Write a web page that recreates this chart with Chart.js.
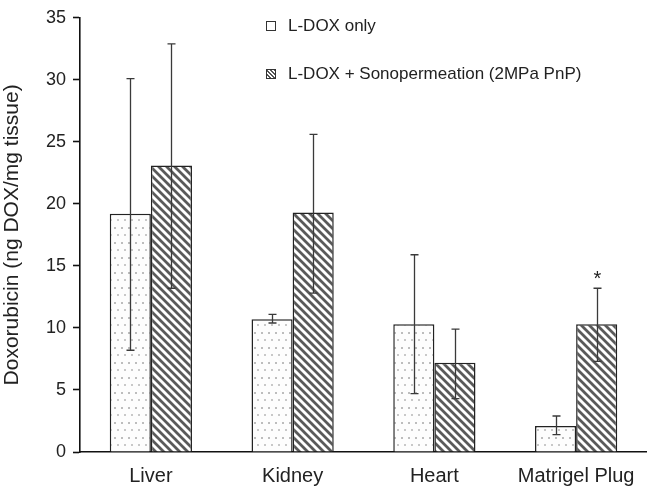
<!DOCTYPE html>
<html>
<head>
<meta charset="utf-8">
<script src="https://cdn.jsdelivr.net/npm/chart.js@4.4.1/dist/chart.umd.min.js"></script>
<style>
  html, body { margin: 0; padding: 0; background: #fff; }
  #wrap { position: relative; width: 647px; height: 487px; }
  #legend { position: absolute; left: 266px; top: 16px; font-family: 'Liberation Sans', Arial, sans-serif; font-size: 17px; color: #222; }
  .item { display: flex; align-items: center; height: 20px; margin-bottom: 28px; }
  .box { width: 8px; height: 8px; border: 1.5px solid #333; margin-right: 12px; background: #fff; }
  .box.hatch { background: repeating-linear-gradient(45deg, #fff 0 1.5px, #555 1.5px 3px); }
</style>
</head>
<body>
<div id="wrap">
  <canvas id="graphContainer" width="647" height="487"></canvas>
  <div id="legend"></div>
</div>
<script>

var organs = ['Liver', 'Kidney', 'Heart', 'Matrigel Plug'];

var seriesNames = ['L-DOX only', 'L-DOX + Sonopermeation (2MPa PnP)'];

// mean values (ng DOX / mg tissue)
var doxOnly = [19.2, 10.7, 10.3, 2.1];
var doxSono = [23.1, 19.3, 7.2, 10.3];

// error bar ends
var doxOnlyLow  = [8.2, 10.4, 4.7, 1.4];
var doxOnlyHigh = [30.1, 11.1, 15.9, 2.9];
var doxSonoLow  = [13.2, 12.8, 4.3, 7.3];
var doxSonoHigh = [32.9, 25.6, 9.9, 13.2];

var sigMarks = ['', '', '', '*'];

var yTicks = [0, 5, 10, 15, 20, 25, 30, 35];

var fontName = "'Liberation Sans', Arial, sans-serif";

function dotPattern() {
    var c = document.createElement('canvas');
    c.width = 14; c.height = 15;
    var g = c.getContext('2d');
    g.fillStyle = '#fdfdfd';
    g.fillRect(0, 0, 14, 15);
    g.fillStyle = '#bdbdbd';
    g.fillRect(2, 2, 2, 2);
    g.fillRect(9, 2, 2, 2);
    g.fillStyle = '#c8c8c8';
    g.fillRect(5, 9, 2, 2);
    g.fillRect(12, 9, 2, 2);
    return g.createPattern(c, 'repeat');
}

function hatchPattern() {
    var n = 8;
    var c = document.createElement('canvas');
    c.width = n; c.height = n;
    var g = c.getContext('2d');
    g.fillStyle = '#fff';
    g.fillRect(0, 0, n, n);
    g.strokeStyle = '#5a5a5a';
    g.lineWidth = 2.8;
    g.beginPath();
    g.moveTo(-1, -1); g.lineTo(n + 1, n + 1);
    g.moveTo(-1, n - 1); g.lineTo(1, n + 1);
    g.moveTo(n - 1, -1); g.lineTo(n + 1, 1);
    g.stroke();
    return g.createPattern(c, 'repeat');
}

var errorBars = {
    id: 'errorBars',
    afterDatasetsDraw: function(chart) {
        var ctx = chart.ctx;
        var y = chart.scales.y;
        var ends = [[doxOnlyLow, doxOnlyHigh], [doxSonoLow, doxSonoHigh]];
        ctx.save();
        ctx.strokeStyle = '#3a3a3a';
        ctx.lineWidth = 1.3;
        for (var d = 0; d < 2; d++) {
            var meta = chart.getDatasetMeta(d);
            meta.data.forEach(function(bar, i) {
                var x = Math.round(bar.x) + 0.5;
                var top = y.getPixelForValue(ends[d][1][i]);
                var bot = y.getPixelForValue(ends[d][0][i]);
                ctx.beginPath();
                ctx.moveTo(x, top); ctx.lineTo(x, bot);
                ctx.moveTo(x - 4, top); ctx.lineTo(x + 4, top);
                ctx.moveTo(x - 4, bot); ctx.lineTo(x + 4, bot);
                ctx.stroke();
                if (d == 1 && sigMarks[i]) {
                    ctx.fillStyle = '#222';
                    ctx.font = '20px ' + fontName;
                    ctx.textAlign = 'center';
                    ctx.fillText(sigMarks[i], x, top - 3);
                }
            });
        }
        ctx.restore();
    }
};

var ctx = document.getElementById('graphContainer');

var chart = new Chart(ctx.getContext('2d'), {
    type: 'bar',
    data: {
        labels: organs,
        datasets: [{
            label: seriesNames[0],
            data: doxOnly,
            backgroundColor: dotPattern(),
            borderColor: '#222',
            borderWidth: 1.5
        }, {
            label: seriesNames[1],
            data: doxSono,
            backgroundColor: hatchPattern(),
            borderColor: '#222',
            borderWidth: 1.5
        }]
    },
    options: {
        responsive: false,
        animation: false,
        layout: { padding: { left: 0, right: 0, top: 8, bottom: 0 } },
        categoryPercentage: 0.58,
        barPercentage: 1,
        plugins: {
            legend: { display: false },
            tooltip: { enabled: false }
        },
        scales: {
            x: {
                grid: { display: false, drawTicks: false },
                border: { color: '#111', width: 1.6 },
                ticks: { color: '#222', font: { family: fontName, size: 20 }, padding: 12 },
                afterFit: function(scale) { scale.height = 35; }
            },
            y: {
                min: 0,
                max: 35,
                afterBuildTicks: function(scale) {
                    scale.ticks = yTicks.map(function(v) { return { value: v }; });
                },
                afterFit: function(scale) { scale.width = 80; },
                grid: { display: true, drawOnChartArea: false, drawTicks: true, tickLength: 7, tickColor: '#111', tickWidth: 1.6 },
                border: { color: '#111', width: 1.6 },
                ticks: { color: '#222', font: { family: fontName, size: 18 }, padding: 7 },
                title: {
                    display: true,
                    text: 'Doxorubicin (ng DOX/mg tissue)',
                    color: '#222',
                    font: { family: fontName, size: 21 },
                    padding: { top: 0, bottom: 2 }
                }
            }
        }
    },
    plugins: [errorBars]
});

var legendBox = document.getElementById('legend');
seriesNames.forEach(function(name, i) {
    var row = document.createElement('div');
    row.className = 'item';
    var box = document.createElement('span');
    box.className = i == 1 ? 'box hatch' : 'box';
    var txt = document.createElement('span');
    txt.textContent = name;
    row.appendChild(box);
    row.appendChild(txt);
    legendBox.appendChild(row);
});
</script>
</body>
</html>
